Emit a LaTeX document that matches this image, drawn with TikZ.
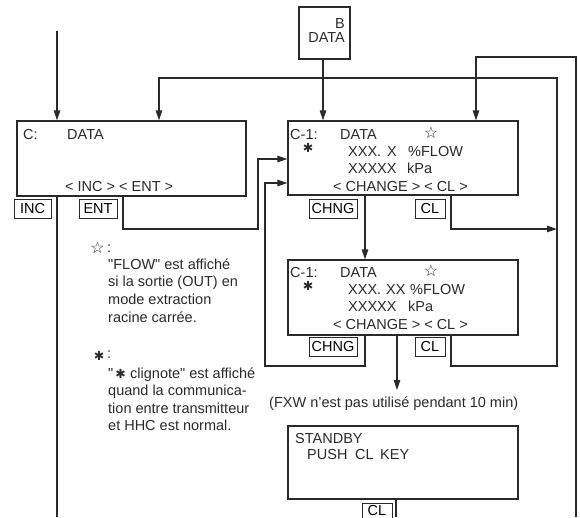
\documentclass[tikz,border=0pt]{standalone}
\usepackage{fontspec}
\setmainfont{Liberation Sans}
\newfontfamily\dejavu{DejaVu Sans}
\usetikzlibrary{arrows.meta,calc}
\definecolor{ink}{HTML}{2A2A2A}
\tikzset{
  box/.style={draw=ink, line width=1.2pt, inner sep=0pt},
  keybox/.style={draw=ink, line width=0.9pt, inner sep=0pt, minimum height=19pt},
  txt/.style={anchor=base west, inner sep=0pt, text=ink},
  txte/.style={anchor=base east, inner sep=0pt, text=ink},
  conn/.style={draw=ink, line width=1.2pt},
  arr/.style={conn, -{Triangle[length=10pt,width=6.5pt]}},
  wstar/.style={inner sep=0pt, text=ink, font=\dejavu\fontsize{16}{16}\selectfont},
  bast/.style={inner sep=0pt, text=ink, font=\dejavu\fontsize{12.5}{12.5}\selectfont},
}
\newcommand{\qd}{\textquotedbl}
\begin{document}
\begin{tikzpicture}[x=1pt,y=-1pt,font=\fontsize{14.5}{17}\selectfont]
\useasboundingbox (0,0) rectangle (580,517);
\clip (0,0) rectangle (580,517);

% main boxes
\node[box, minimum width=229pt, minimum height=75pt] (cbox) at (131.5,158.5) {};
\node[box, minimum width=51pt, minimum height=52pt] (bbox) at (324.5,33) {};
\node[box, minimum width=230pt, minimum height=74pt] (c1a) at (403,158) {};
\node[box, minimum width=230pt, minimum height=75pt] (c1b) at (403,297.5) {};
\node[box, minimum width=230pt, minimum height=73pt] (sb) at (403,462.5) {};

% keys
\node[keybox, minimum width=37pt] (inc) at (32.5,209) {INC};
\node[keybox, minimum width=38pt] (ent) at (98,209) {ENT};
\node[keybox, minimum width=48pt] (chng1) at (333,208.5) {CHNG};
\node[keybox, minimum width=30pt] (cl1) at (430,208.5) {CL};
\node[keybox, minimum width=48pt] (chng2) at (333,347) {CHNG};
\node[keybox, minimum width=30pt] (cl2) at (430,347) {CL};
\node[keybox, minimum width=30pt, minimum height=16pt] (cl3) at (377,511) {\raisebox{1.5pt}{CL}};

% B DATA
\node[txte] (bt1) at (345,28) {B};
\node[txte] (bt2) at (345,42) {DATA};

% C box text
\node[txt] (ct1) at (23,139) {C:};
\node[txt] (ct2) at (67,139) {DATA};
\node[txt] (ct3) at (65,191) {< INC > < ENT >};

% C-1 box (first)
\node[txt] (a1) at (290,139) {C-1:};
\node[txt] (a2) at (340,139) {DATA};
\node[wstar] (a3) at (431,133) {☆};
\node[bast] (a4) at (308,147.5) {✱};
\node[txt] (a5) at (348,156) {XXX.};
\node[txt] (a6) at (387,156) {X};
\node[txt] (a7) at (408,156) {\%FLOW};
\node[txt] (a8) at (348,173) {XXXXX};
\node[txt] (a9) at (407,173) {kPa};
\node[txt] (a10) at (333,191) {< CHANGE > < CL >};

% C-1 box (second)
\node[txt] (b1) at (290,277) {C-1:};
\node[txt] (b2) at (340,277) {DATA};
\node[wstar] (b3) at (431,271) {☆};
\node[bast] (b4) at (308,285.5) {✱};
\node[txt] (b5) at (348,294) {XXX.};
\node[txt] (b6) at (386,294) {XX};
\node[txt] (b7) at (410,294) {\%FLOW};
\node[txt] (b8) at (348,311) {XXXXX};
\node[txt] (b9) at (408,311) {kPa};
\node[txt] (b10) at (333,329) {< CHANGE > < CL >};

% STANDBY
\node[txt] (s1) at (295,443) {STANDBY};
\node[txt] (s2) at (307,459) {PUSH};
\node[txt] (s3) at (355,459) {CL};
\node[txt] (s4) at (380,459) {KEY};

% notes
\node[wstar] (n1) at (97.5,247.5) {☆};
\node[txt] (n2) at (107,252) {:};
\node[txt] (n3) at (108,269) {\qd FLOW\qd{} est affiché};
\node[txt] (n4) at (108,286.5) {si la sortie (OUT) en};
\node[txt] (n5) at (108,304) {mode extraction};
\node[txt] (n6) at (108,322) {racine carrée.};
\node[bast] (m1) at (99,356) {✱};
\node[txt] (m2) at (107,358) {:};
\node[txt] (m3) at (108,378) {\qd};
\node[bast] (m4) at (120.5,374) {✱};
\node[txt] (m5) at (130,378) {clignote\qd{} est affiché};
\node[txt] (m6) at (108,395.5) {quand la communica-};
\node[txt] (m7) at (108,413) {tion entre transmitteur};
\node[txt] (m8) at (108,430.5) {et HHC est normal.};

\node[txt] (fxw) at (269,407) {(FXW n’est pas utilisé pendant 10 min)};

% free ends
\coordinate (in1) at (57,31);
\coordinate (rin) at (576,517);
\coordinate (incout) at (57,517);
\coordinate (cl3out) at (396,517);
\coordinate (fxwin) at (397,390);

% connectors
\draw[arr] (in1) -- (cbox.north -| in1);
\draw[arr] (bbox.south -| 323,0) -- (c1a.north -| 323,0);
\draw[arr] (c1b.south -| 451,0) |- (557,366) |- (159,78) -- (cbox.north -| 159,0);
\draw[arr] (rin) |- (476,57) -- (c1a.north -| 476,0);
\draw[arr] (c1a.south -| 451,0) |- (557,229);
\draw[arr] (cbox.south -| 123,0) |- (258,229) |- (c1a.west |- 0,159);
\draw[arr] (c1b.south -| 365,0) |- (265,366) |- (c1a.west |- 0,183);
\draw[arr] (c1a.south -| 365,0) -- (c1b.north -| 365,0);
\draw[arr] (c1b.south -| fxwin) -- (fxwin);
\draw[conn] (sb.south -| cl3out) -- (cl3out);
\draw[conn] (cbox.south -| incout) -- (incout);
\end{tikzpicture}
\end{document}
